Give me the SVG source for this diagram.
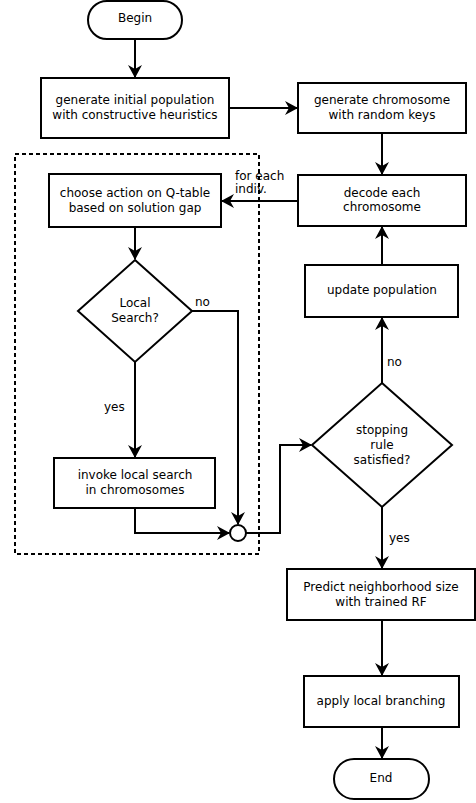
<svg xmlns="http://www.w3.org/2000/svg" width="476" height="803" viewBox="0 0 476 803">
<defs>
<marker id="ah" markerUnits="userSpaceOnUse" markerWidth="14" markerHeight="14" refX="12" refY="7" orient="auto" viewBox="0 0 14 14">
<path d="M0,0 L13,7 L0,14 L4,7 z" fill="#000"/>
</marker>
<style>
.n{fill:#fff;stroke:#000;stroke-width:2}
.t{font-family:"DejaVu Sans",sans-serif;font-size:12px;fill:#000;text-anchor:middle}
.l{font-family:"DejaVu Sans",sans-serif;font-size:12px;fill:#000}
.c{fill:none;stroke:#000;stroke-width:2}
.a{marker-end:url(#ah)}
</style>
</defs>
<rect x="15" y="154" width="244" height="400" fill="none" stroke="#000" stroke-width="2" stroke-dasharray="4,3"/>
<g id="connectors">
<path class="c a" d="M135,39 V77"/>
<path class="c a" d="M229,108 H297"/>
<path class="c a" d="M382,133 V174"/>
<path class="c a" d="M298,201 H222"/>
<path class="c a" d="M135,227 V259"/>
<path class="c a" d="M192,311 H238 V524"/>
<path class="c a" d="M135,362 V457"/>
<path class="c a" d="M135,508 V533 H229"/>
<path class="c a" d="M246,533 H280 V445 H311"/>
<path class="c a" d="M382,383 V318"/>
<path class="c a" d="M382,265 V227"/>
<path class="c a" d="M382,507 V568"/>
<path class="c a" d="M382,620 V675"/>
<path class="c a" d="M382,727 V758"/>
<text class="l" x="235" y="180">for each</text>
<text class="l" x="235" y="193">indiv.</text>
<text class="l" x="195" y="306">no</text>
<text class="l" x="104" y="411">yes</text>
<text class="l" x="387" y="366">no</text>
<text class="l" x="389" y="542">yes</text>
</g>
<g id="begin"><rect class="n" x="88" y="1" width="94" height="38" rx="19"/><text class="t" x="135" y="22">Begin</text></g>
<g id="init"><rect class="n" x="41" y="78" width="188" height="60"/><text class="t" x="135" y="104">generate initial population</text><text class="t" x="135" y="119">with constructive heuristics</text></g>
<g id="genchrom"><rect class="n" x="298" y="83" width="168" height="50"/><text class="t" x="382" y="104">generate chromosome</text><text class="t" x="382" y="119">with random keys</text></g>
<g id="decode"><rect class="n" x="298" y="175" width="168" height="51"/><text class="t" x="382" y="197">decode each</text><text class="t" x="382" y="211">chromosome</text></g>
<g id="choose"><rect class="n" x="49" y="174" width="172" height="53"/><text class="t" x="135" y="197">choose action on Q-table</text><text class="t" x="135" y="212">based on solution gap</text></g>
<g id="localsearch"><path class="n" d="M135,260 L192,311 L135,362 L78,311 z"/><text class="t" x="135" y="307">Local</text><text class="t" x="135" y="322">Search?</text></g>
<g id="invoke"><rect class="n" x="54" y="458" width="161" height="50"/><text class="t" x="135" y="479">invoke local search</text><text class="t" x="135" y="494">in chromosomes</text></g>
<g id="merge"><circle class="n" cx="238" cy="533" r="8"/></g>
<g id="stopping"><path class="n" d="M382,383 L452,445 L382,507 L312,445 z"/><text class="t" x="382" y="434">stopping</text><text class="t" x="382" y="449">rule</text><text class="t" x="382" y="464">satisfied?</text></g>
<g id="update"><rect class="n" x="305" y="265" width="153" height="52"/><text class="t" x="382" y="294">update population</text></g>
<g id="predict"><rect class="n" x="287" y="569" width="188" height="51"/><text class="t" x="381" y="591">Predict neighborhood size</text><text class="t" x="381" y="606">with trained RF</text></g>
<g id="apply"><rect class="n" x="304" y="676" width="155" height="51"/><text class="t" x="381" y="705">apply local branching</text></g>
<g id="end"><rect class="n" x="334" y="759" width="95" height="40" rx="20"/><text class="t" x="381" y="782">End</text></g>
</svg>
